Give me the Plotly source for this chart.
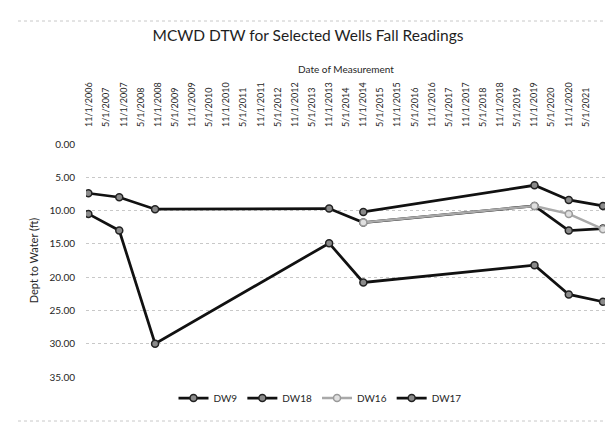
import plotly.graph_objects as go
from datetime import datetime

# ---- data ----
dates_long = ["2006-10-20", "2007-09-15", "2008-10-01", "2013-11-01",
              "2014-11-01", "2019-11-01", "2020-11-01", "2021-11-01"]
dw9 = [7.4, 8.0, 9.8, 9.7, 11.8, 9.3, 13.0, 12.7]
dw18 = [10.5, 13.0, 30.0, 14.9, 20.8, 18.2, 22.6, 23.7]

dates_short = ["2014-11-01", "2019-11-01", "2020-11-01", "2021-11-01"]
dw16 = [11.8, 9.3, 10.5, 12.8]
dw17 = [10.2, 6.2, 8.4, 9.3]

tick_labels = [
    "11/1/2006", "5/1/2007", "11/1/2007", "5/1/2008", "11/1/2008", "5/1/2009",
    "11/1/2009", "5/1/2010", "11/1/2010", "5/1/2011", "11/1/2011", "5/1/2012",
    "11/1/2012", "5/1/2013", "11/1/2013", "5/1/2014", "11/1/2014", "5/1/2015",
    "11/1/2015", "5/1/2016", "11/1/2016", "5/1/2017", "11/1/2017", "5/1/2018",
    "11/1/2018", "5/1/2019", "11/1/2019", "5/1/2020", "11/1/2020", "5/1/2021",
]
tick_vals = [datetime.strptime(t, "%m/%d/%Y").strftime("%Y-%m-%d") for t in tick_labels]

FONT = "Lato"
TXT = "#262626"

dark_line = dict(color="#111111", width=2.75)
dark_marker = dict(symbol="circle", size=7, color="#8a8a8a",
                   line=dict(color="#222222", width=1.5))

fig = go.Figure()
fig.add_trace(go.Scatter(x=dates_long, y=dw9, name="DW9", mode="lines+markers",
                         line=dark_line, marker=dark_marker))
fig.add_trace(go.Scatter(x=dates_long, y=dw18, name="DW18", mode="lines+markers",
                         line=dark_line, marker=dark_marker))
fig.add_trace(go.Scatter(x=dates_short, y=dw16, name="DW16", mode="lines+markers",
                         line=dict(color="#a9a9a9", width=2.5),
                         marker=dict(symbol="circle", size=7, color="#e0e0e0",
                                     line=dict(color="#9a9a9a", width=1.5))))
fig.add_trace(go.Scatter(x=dates_short, y=dw17, name="DW17", mode="lines+markers",
                         line=dark_line, marker=dark_marker))

L, R, T, B = 78, 15, 136, 55
W, H = 613, 424
pw, ph = W - L - R, H - T - B

fig.update_layout(
    width=W, height=H,
    margin=dict(l=L, r=R, t=T, b=B),
    paper_bgcolor="white", plot_bgcolor="white",
    font=dict(family=FONT, color=TXT, size=10),
    title=dict(text="MCWD DTW for Selected Wells Fall Readings",
               x=300 / W, xref="container", xanchor="center",
               y=1 - 28 / H, yref="container", yanchor="middle",
               font=dict(family=FONT, size=15.5, color="#1e1e1e")),
    showlegend=True,
    legend=dict(orientation="h", x=(312 - L) / pw, xanchor="center",
                y=-(390 - (T + ph)) / ph, yanchor="middle",
                font=dict(family=FONT, size=10, color=TXT),
                itemwidth=30, tracegroupgap=0),
    xaxis=dict(
        type="date", side="top",
        range=["2006-09-25", "2021-12-03"],
        tickvals=tick_vals, ticktext=tick_labels, tickangle=-90,
        tickfont=dict(family=FONT, size=9, color=TXT),
        ticklabelstandoff=16,
        showgrid=False, showline=False, zeroline=False, ticks="",
        title=dict(text="Date of Measurement", standoff=6,
                   font=dict(family=FONT, size=10, color=TXT)),
    ),
    yaxis=dict(
        range=[35, 0], dtick=5, tickformat=".2f",
        showgrid=True, gridcolor="#c8c8c8", griddash="dot", gridwidth=1,
        zeroline=False, showline=False, ticks="",
        ticklabelstandoff=10,
        tickfont=dict(family=FONT, size=10, color=TXT),
        title=dict(text="Dept to Water (ft)", standoff=8,
                   font=dict(family=FONT, size=11, color=TXT)),
    ),
)

# dotted chart-area border lines (top and bottom)
for yy in (13, 413):
    fig.add_shape(type="line", xref="paper", yref="paper",
                  x0=(10 - L) / pw, x1=(605 - L) / pw,
                  y0=(H - B - yy) / ph, y1=(H - B - yy) / ph,
                  line=dict(color="#c8c8c8", width=1, dash="dot"))

fig.write_html("out.html")
